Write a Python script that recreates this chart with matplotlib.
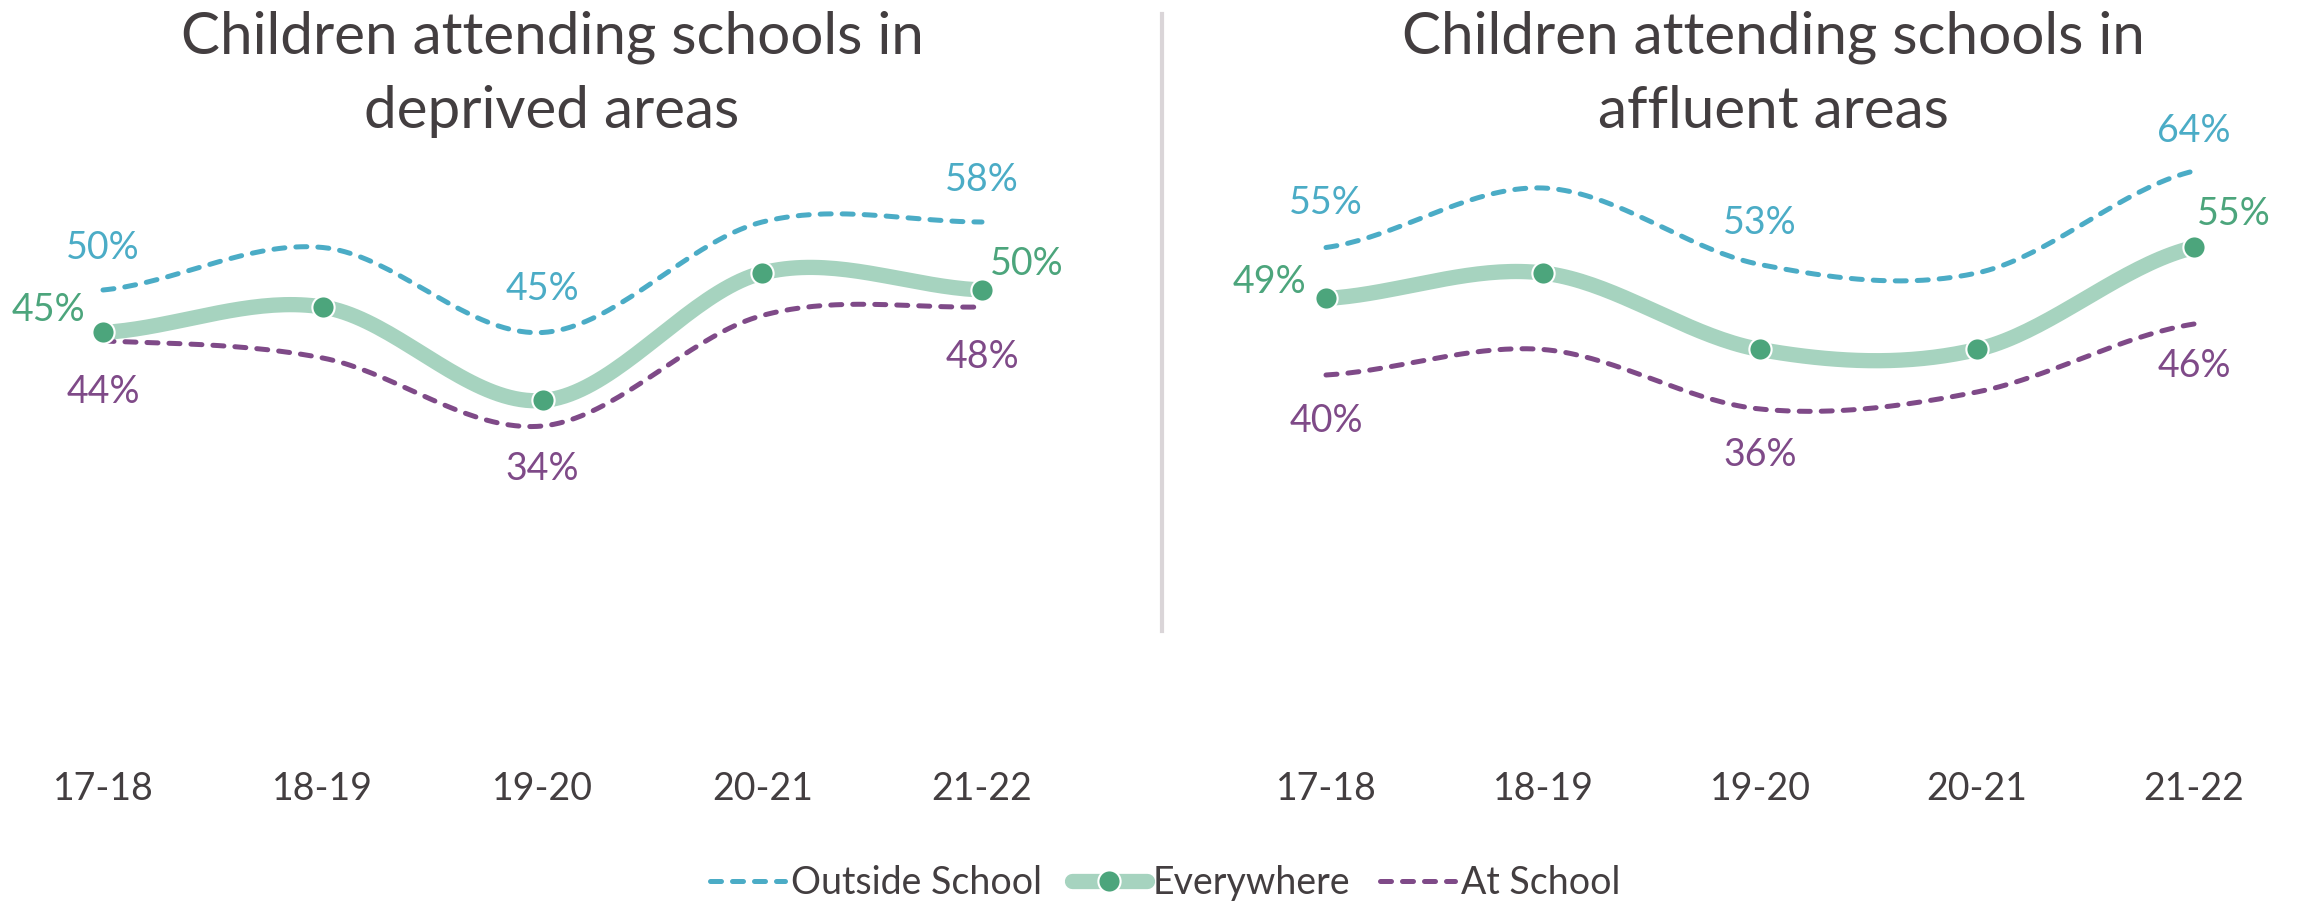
import numpy as np
import matplotlib.pyplot as plt
from matplotlib.lines import Line2D

plt.rcParams['font.family'] = ['Lato', 'DejaVu Sans']

years = ['17-18', '18-19', '19-20', '20-21', '21-22']

# deprived areas
dep_outside = [50, 55, 45, 58, 58]
dep_everywhere = [45, 48, 37, 52, 50]
dep_school = [44, 42, 34, 47, 48]

# affluent areas
aff_outside = [55, 62, 53, 52, 64]
aff_everywhere = [49, 52, 43, 43, 55]
aff_school = [40, 43, 36, 38, 46]

TEAL = '#4BACC6'
GREEN = '#4CA57C'
LIGHT_GREEN = '#A6D3BF'
PURPLE = '#7F4A88'
TEXT = '#433E40'

W, H = 2297, 905
fig = plt.figure(figsize=(W / 100, H / 100), dpi=100)

DASH = dict(lw=3.6, dashes=(2.2, 2.2), dash_capstyle='round')


def smooth(vals, n=40):
    # catmull-rom curve through the points (like a smoothed office line)
    p = np.asarray(vals, dtype=float)
    x = np.arange(len(p), dtype=float)
    pp = np.concatenate([[p[0]], p, [p[-1]]])
    xs, ys = [], []
    for i in range(len(p) - 1):
        p0, p1, p2, p3 = pp[i], pp[i + 1], pp[i + 2], pp[i + 3]
        m1 = (p2 - p0) / 2
        m2 = (p3 - p1) / 2
        t = np.linspace(0, 1, n, endpoint=(i == len(p) - 2))
        h00 = 2 * t**3 - 3 * t**2 + 1
        h10 = t**3 - 2 * t**2 + t
        h01 = -2 * t**3 + 3 * t**2
        h11 = t**3 - t**2
        ys.append(h00 * p1 + h10 * m1 + h01 * p2 + h11 * m2)
        xs.append(x[i] + t)
    return np.concatenate(xs), np.concatenate(ys)


def make_axes(left_px, right_px, x0_px, step_px):
    bottom_px, top_px = 715, 120
    ax = fig.add_axes([left_px / W, 1 - bottom_px / H,
                       (right_px - left_px) / W, (bottom_px - top_px) / H])
    ax.set_xlim((left_px - x0_px) / step_px, (right_px - x0_px) / step_px)
    ax.set_ylim(0, 70)
    for s in ax.spines.values():
        s.set_visible(False)
    ax.set_yticks([])
    ax.set_xticks(range(len(years)))
    ax.set_xticklabels(years, fontsize=27, color=TEXT)
    ax.tick_params(axis='x', length=0, pad=40)
    return ax


def draw(ax, outside, everywhere, school, labels):
    xs, ys = smooth(outside)
    ax.plot(xs, ys, color=TEAL, **DASH)
    xs, ys = smooth(school)
    ax.plot(xs, ys, color=PURPLE, **DASH)
    xs, ys = smooth(everywhere)
    ax.plot(xs, ys, color=LIGHT_GREEN, lw=11, solid_capstyle='butt')
    ax.plot(range(len(everywhere)), everywhere, ls='none', marker='o', ms=16,
            mfc=GREEN, mec='white', mew=1.5)
    for series, idx, dx, dy, col in labels:
        ax.annotate('%d%%' % series[idx], (idx, series[idx]), xytext=(dx, dy),
                    textcoords='offset points', ha='center', va='center',
                    fontsize=27, color=col, annotation_clip=False)


ax1 = make_axes(20, 1140, 103, 219.75)
draw(ax1, dep_outside, dep_everywhere, dep_school, [
    (dep_outside, 0, 0, 30, TEAL), (dep_outside, 2, 0, 31, TEAL), (dep_outside, 4, 0, 30, TEAL),
    (dep_everywhere, 0, -39, 16, GREEN), (dep_everywhere, 4, 32, 19, GREEN),
    (dep_school, 0, 0, -37, PURPLE), (dep_school, 2, 0, -31, PURPLE), (dep_school, 4, 0, -36, PURPLE),
])

ax2 = make_axes(1180, 2290, 1326, 217)
draw(ax2, aff_outside, aff_everywhere, aff_school, [
    (aff_outside, 0, 0, 32, TEAL), (aff_outside, 2, 0, 30, TEAL), (aff_outside, 4, 0, 29, TEAL),
    (aff_everywhere, 0, -41, 12, GREEN), (aff_everywhere, 4, 29, 24, GREEN),
    (aff_school, 0, 0, -33, PURPLE), (aff_school, 2, 0, -33, PURPLE), (aff_school, 4, 0, -30, PURPLE),
])

# titles
for cx, second in [(552, 'deprived areas'), (1773, 'affluent areas')]:
    fig.text(cx / W, 1 - 37 / H, 'Children attending schools in', ha='center', va='center',
             fontsize=42, color=TEXT)
    fig.text(cx / W, 1 - 112 / H, second, ha='center', va='center',
             fontsize=42, color=TEXT)

# divider between the two panels
fig.add_artist(Line2D([1161.5 / W, 1161.5 / W], [1 - 14 / H, 1 - 631 / H],
                      color='#DAD5D8', lw=3))

handles = [
    Line2D([], [], color=TEAL, **DASH),
    Line2D([], [], color=LIGHT_GREEN, lw=11, marker='o', ms=16, mfc=GREEN, mec='white', mew=1.5,
           solid_capstyle='round'),
    Line2D([], [], color=PURPLE, **DASH),
]
fig.legend(handles, ['Outside School', 'Everywhere', 'At School'], loc='center',
           bbox_to_anchor=(1165 / W, 1 - 883 / H), ncol=3, frameon=False,
           fontsize=27, labelcolor=TEXT, handlelength=2.0, handletextpad=0.15,
           columnspacing=0.8)

fig.savefig('out.png', dpi=100)
